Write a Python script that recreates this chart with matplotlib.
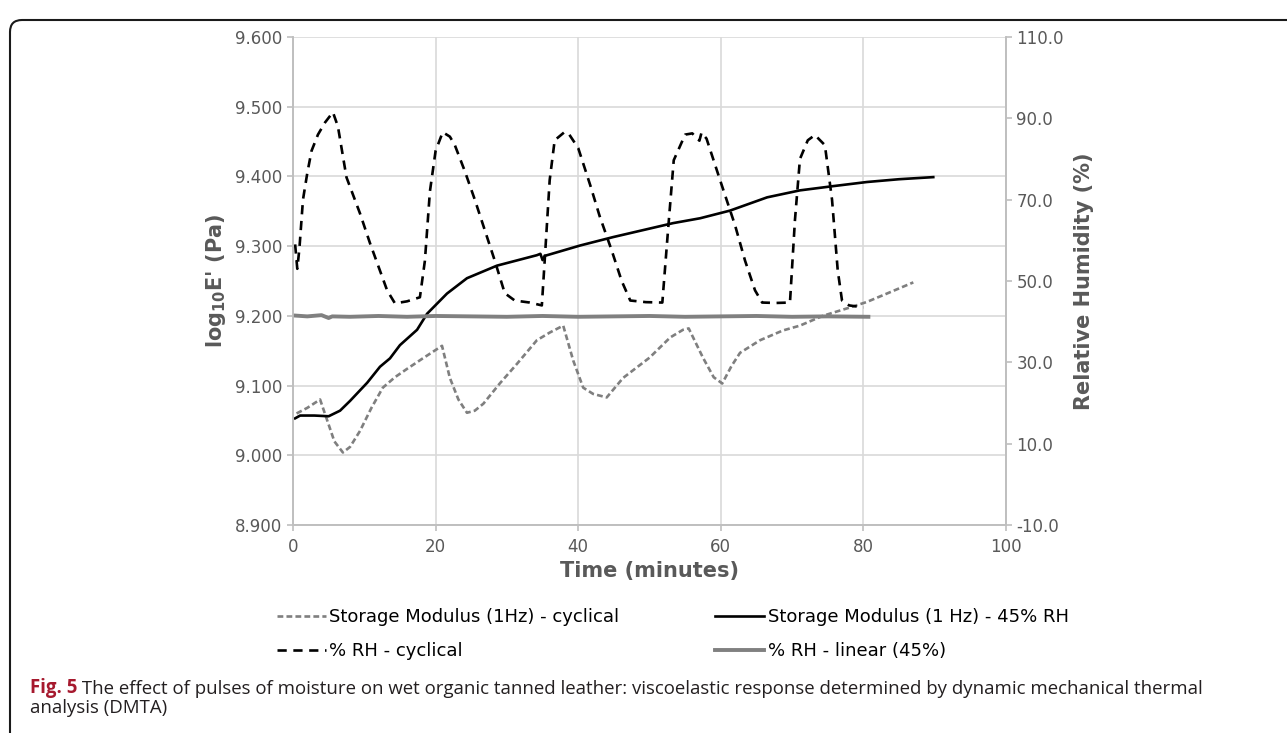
"""DMTA storage modulus vs time under cyclical and constant humidity."""

import matplotlib
matplotlib.use("Agg")
import matplotlib.pyplot as plt
from matplotlib.patches import FancyBboxPatch
from matplotlib.transforms import IdentityTransform
from matplotlib.ticker import FormatStrFormatter

plt.rcParams["font.family"] = ["DejaVu Sans"]
plt.rcParams["mathtext.fontset"] = "dejavusans"

# storage modulus (1 Hz), cyclical RH -- log10 E' (Pa)
t_sm_cyc = [0.5, 2.0, 3.8, 4.8, 5.8, 7.0, 8.0, 9.4, 11.0, 12.6, 14.3, 16.0, 18.2, 20.9,
            22.0, 23.2, 24.4, 25.5, 26.7, 29.0, 31.4, 34.2, 36.0, 37.9, 39.3, 40.7,
            42.1, 44.0, 46.3, 50.0, 52.9, 54.7, 55.5, 57.5, 59.0, 60.2, 61.5, 62.7,
            65.5, 68.7, 71.1, 74.3, 78.1, 80.5, 83.3, 87.0]
sm_cyc = [9.060, 9.068, 9.080, 9.050, 9.020, 9.004, 9.012, 9.035, 9.068, 9.097, 9.112,
          9.124, 9.139, 9.157, 9.111, 9.080, 9.061, 9.064, 9.074, 9.103, 9.131, 9.165,
          9.176, 9.186, 9.136, 9.097, 9.088, 9.083, 9.111, 9.140, 9.169, 9.180, 9.182,
          9.140, 9.112, 9.103, 9.128, 9.147, 9.165, 9.179, 9.186, 9.200, 9.212, 9.220,
          9.232, 9.248]

# storage modulus (1 Hz), constant 45% RH -- log10 E' (Pa)
t_sm_45 = [0.3, 1.0, 3.0, 5.0, 6.6, 7.6, 8.0, 10.4, 12.2, 13.6, 15.0, 17.4, 18.8,
           21.6, 24.4, 28.6, 34.2, 34.7, 35.0, 35.3, 40.3, 44.9, 53.3, 57.1, 61.3,
           66.5, 71.1, 75.7, 80.5, 85.0, 89.8]
sm_45 = [9.053, 9.057, 9.057, 9.056, 9.064, 9.074, 9.078, 9.104, 9.127, 9.139, 9.158,
         9.180, 9.203, 9.232, 9.254, 9.272, 9.287, 9.289, 9.280, 9.286, 9.301, 9.313,
         9.333, 9.340, 9.351, 9.370, 9.380, 9.386, 9.392, 9.396, 9.399]

# % RH, cyclical (right axis)
t_rh_cyc = [0.3, 0.6, 0.9, 1.4, 2.0, 2.6, 3.5, 4.5, 5.6, 6.3, 7.5, 9.4, 10.8, 13.2,
            14.3, 16.0, 17.8, 18.5, 19.2, 20.0, 21.0, 22.0, 22.7, 24.1, 25.5, 26.9,
            28.3, 29.7, 31.1, 33.2, 34.9, 35.3, 36.0, 36.7, 38.0, 38.6, 40.0, 41.7,
            43.0, 44.7, 46.1, 47.3, 49.5, 51.8, 52.6, 53.4, 55.0, 56.0, 57.0, 57.3,
            58.0, 59.9, 62.0, 63.4, 64.8, 65.8, 67.7, 69.7, 70.4, 71.1, 72.2, 73.2,
            74.6, 75.6, 76.4, 77.0, 78.0, 80.0]
rh_cyc = [59.0, 53.0, 58.0, 70.0, 76.5, 82.0, 86.0, 89.0, 91.5, 88.0, 75.5, 66.6, 59.3,
          47.7, 44.5, 45.0, 46.0, 55.0, 72.0, 82.0, 86.6, 85.5, 83.4, 77.0, 70.0, 62.5,
          55.0, 47.0, 45.2, 44.7, 44.0, 55.0, 74.8, 84.6, 86.5, 86.4, 82.7, 73.5, 66.0,
          57.5, 50.0, 45.2, 44.8, 44.7, 62.5, 79.7, 86.0, 86.3, 84.5, 86.5, 85.0, 74.8,
          63.7, 55.0, 47.7, 44.7, 44.6, 44.7, 65.0, 80.0, 84.6, 85.9, 83.4, 70.0, 52.6,
          45.2, 44.0, 43.5]

# % RH, linear 45% (right axis)
t_rh_lin = [0.3, 2.0, 4.0, 5.0, 5.5, 8.0, 12.0, 16.0, 20.0, 25.0, 30.0, 35.0, 40.0,
            45.0, 50.0, 55.0, 60.0, 65.0, 70.0, 75.0, 80.7]
rh_lin = [41.5, 41.3, 41.6, 40.9, 41.3, 41.2, 41.4, 41.2, 41.4, 41.3, 41.2, 41.4,
          41.2, 41.3, 41.4, 41.2, 41.3, 41.4, 41.2, 41.3, 41.2]

x_ticks = [0, 20, 40, 60, 80, 100]
left_ticks = [8.9, 9.0, 9.1, 9.2, 9.3, 9.4, 9.5, 9.6]
right_ticks = [-10, 10, 30, 50, 70, 90, 110]

GREY_TXT = "#595959"
GREY_AX = "#bfbfbf"
GRID = "#d9d9d9"

W, H = 1287, 733
fig = plt.figure(figsize=(W / 100, H / 100), dpi=100)
ax = fig.add_axes([293 / W, 1 - 525 / H, (1006 - 293) / W, (525 - 37) / H])
ax2 = ax.twinx()

l1, = ax.plot(t_sm_cyc, sm_cyc, color="#7f7f7f", lw=1.9, ls=(0, (2.2, 1.2)),
              label="Storage Modulus (1Hz) - cyclical")
l2, = ax.plot(t_sm_45, sm_45, color="black", lw=1.9,
              label="Storage Modulus (1 Hz) - 45% RH")
l4, = ax2.plot(t_rh_lin, rh_lin, color="#808080", lw=2.8,
               label="% RH - linear (45%)")
l3, = ax2.plot(t_rh_cyc, rh_cyc, color="black", lw=1.9, ls=(0, (3.5, 2.5)),
               label="% RH - cyclical")

ax.set_xlim(0, 100)
ax.set_ylim(8.9, 9.6)
ax2.set_ylim(-10, 110)
ax.set_xticks(x_ticks)
ax.set_yticks(left_ticks)
ax2.set_yticks(right_ticks)
ax.yaxis.set_major_formatter(FormatStrFormatter("%.3f"))
ax2.yaxis.set_major_formatter(FormatStrFormatter("%.1f"))

ax.grid(True, color=GRID, lw=1.2)
ax.set_axisbelow(True)
for a in (ax, ax2):
    a.spines["top"].set_visible(False)
    for s in ("left", "right", "bottom"):
        a.spines[s].set_color(GREY_AX)
        a.spines[s].set_linewidth(1.2)
    a.tick_params(colors=GREY_AX, labelcolor=GREY_TXT, labelsize=12, length=4, width=1.2)
ax.tick_params(axis="x", pad=5)

ax.set_xlabel("Time (minutes)", fontsize=15, fontweight="bold", color=GREY_TXT, labelpad=4)
ax.set_ylabel(r"log$_\mathbf{10}$E' (Pa)", fontsize=15, fontweight="bold",
              color=GREY_TXT, labelpad=5)
ax2.set_ylabel("Relative Humidity (%)", fontsize=15, fontweight="bold",
               color=GREY_TXT, labelpad=7)

# row-wise legend: col 1 = cyclical series, col 2 = 45% series
fig.legend(handles=[l1, l3, l2, l4], ncol=2, frameon=False,
           loc="upper left", bbox_to_anchor=(277 / W, 1 - 608 / H),
           fontsize=13, handlelength=2.7, handletextpad=0.2, borderpad=0,
           columnspacing=5.3, labelspacing=0.88, borderaxespad=0)

cap1 = fig.text(30 / W, 1 - 688 / H, "Fig. 5", fontsize=13.4, fontweight="bold",
                color="#a6192e", family="Open Sans", va="center")
fig.text(30 / W, 1 - 708 / H, "analysis (DMTA)", fontsize=13.4, color="#231f20",
         family="Open Sans", va="center")
ax.annotate(" The effect of pulses of moisture on wet organic tanned leather: viscoelastic "
            "response determined by dynamic mechanical thermal",
            xy=(1, 0), xycoords=cap1, va="bottom", ha="left",
            fontsize=13.4, color="#231f20", family="Open Sans", annotation_clip=False)

border = FancyBboxPatch((10, -60), 1400, 723 + 60 - 10, transform=IdentityTransform(),
                        boxstyle="round,pad=0,rounding_size=12", fill=False,
                        ec="#1a1a1a", lw=1.5, clip_on=False)
fig.patches.append(border)

fig.savefig("out.png", dpi=100)
